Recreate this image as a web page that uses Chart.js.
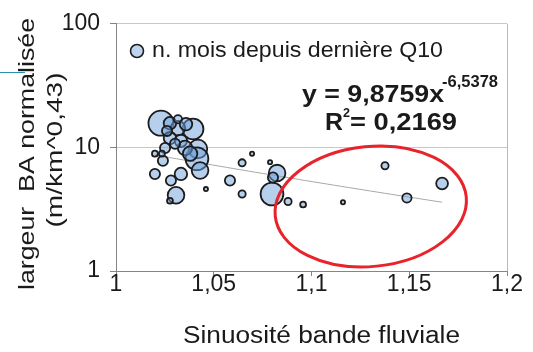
<!DOCTYPE html>
<html>
<head>
<meta charset="utf-8">
<script src="https://cdn.jsdelivr.net/npm/chart.js@4.4.1/dist/chart.umd.min.js"></script>
<style>
  html, body { margin: 0; padding: 0; background: #ffffff; }
  #wrap { width: 533px; height: 352px; }
</style>
</head>
<body>
<div id="wrap"><canvas id="c" width="533" height="352"></canvas></div>
<script>
// Sinuosity of the braided belt vs normalised braidplain width,
// bubble size = months since the last Q10 flood.
const sinuosity = [
  1.0230, 1.0394, 1.0317, 1.0276, 1.0276, 1.0332, 1.0419, 1.0251, 1.0317, 1.0414,
  1.0430, 1.0240, 1.0199, 1.0281, 1.0332, 1.0307, 1.0460, 1.0276, 1.0199, 1.0696,
  1.0645, 1.0788, 1.0583, 1.0645, 1.0824, 1.0798, 1.0803, 1.0880, 1.0957, 1.1161,
  1.1376, 1.1488, 1.1668, 1.0353, 1.0379, 1.0302, 1.0235, 1.0358, 1.0261
];
const widthNorm = [
  15.7, 14.1, 14.3, 15.7, 11.9, 11.3, 9.7, 9.9, 16.9, 8.1,
  6.5, 7.8, 6.1, 5.4, 6.1, 4.1, 4.6, 3.7, 8.9, 8.9,
  7.5, 7.6, 5.4, 4.2, 6.2, 4.2, 5.7, 3.65, 3.45, 3.6,
  7.1, 3.9, 5.1, 9.9, 8.9, 10.7, 8.9, 15.4, 13.6
];
const monthsSinceQ10 = [
  36, 25, 12, 9, 9, 9, 20, 6, 4, 30,
  16, 6, 6, 6, 9, 16, 1, 2, 2, 1,
  3, 1, 6, 3, 16, 30, 6, 3, 2, 1,
  3, 5, 8, 12, 12, 6, 2, 9, 6
];

// Power-law trendline y = a * x^b and its fit quality
const trendCoef = 9.8759;
const trendExp = -6.5378;
const rSquared = 0.2169;

const xTickValues = [1, 1.05, 1.1, 1.15, 1.2];
const xTickLabels = ['1', '1,05', '1,1', '1,15', '1,2'];
const yTickValues = [1, 10, 100];
const yTickLabels = ['1', '10', '100'];

const seriesLabel = 'n. mois depuis dernière Q10';
const xTitle = 'Sinuosité bande fluviale';
const yTitle = ['largeur  BA normalisée', '(m/km^0,43)'];

const FONT = '"Liberation Sans", Arial, Helvetica, sans-serif';
const TEXT = '#1a1a1a';
const BUBBLE_FILL = 'rgba(110,160,220,0.5)';
const BUBBLE_EDGE = '#1c1c1c';
const MAX_RADIUS = 12.5;
const maxMonths = Math.max(...monthsSinceQ10);
const radiusFor = m => MAX_RADIUS * Math.sqrt(m / maxMonths);

const bubbles = sinuosity.map((x, i) => ({ x: x, y: widthNorm[i], r: radiusFor(monthsSinceQ10[i]) }));

const xMin = Math.min(...sinuosity);
const xMax = Math.max(...sinuosity);
const trendPoints = [];
for (let k = 0; k <= 40; k++) {
  const x = xMin + (xMax - xMin) * k / 40;
  trendPoints.push({ x: x, y: trendCoef * Math.pow(x, trendExp) });
}

const comma = v => String(v).replace('.', ',');

// draw text stretched horizontally so that it spans a given width
function fitText(ctx, text, x, y, targetW, font) {
  ctx.font = font;
  const w = ctx.measureText(text).width;
  ctx.save();
  ctx.translate(x, y);
  ctx.scale(targetW / w, 1);
  ctx.textAlign = 'left';
  ctx.textBaseline = 'alphabetic';
  ctx.fillText(text, 0, 0);
  ctx.restore();
}

// rotated text centred on (cx, cy), reading bottom to top
function fitTextVertical(ctx, text, cx, cy, targetLen, font) {
  ctx.font = font;
  const w = ctx.measureText(text).width;
  ctx.save();
  ctx.translate(cx, cy);
  ctx.rotate(-Math.PI / 2);
  ctx.scale(targetLen / w, 1);
  ctx.textAlign = 'center';
  ctx.textBaseline = 'middle';
  ctx.fillText(text, 0, 0);
  ctx.restore();
}

const decorations = {
  id: 'decorations',
  afterDraw(chart) {
    const ctx = chart.ctx;
    const xs = chart.scales.x, ys = chart.scales.y;
    ctx.save();
    ctx.fillStyle = TEXT;

    // axis titles
    fitText(ctx, xTitle, 183, 343, 277, '23px ' + FONT);
    fitTextVertical(ctx, yTitle[0], 28, 154, 272, '22px ' + FONT);
    fitTextVertical(ctx, yTitle[1], 56, 150, 155, '22px ' + FONT);

    // legend entry
    ctx.beginPath();
    ctx.arc(137, 51, 6.5, 0, Math.PI * 2);
    ctx.fillStyle = 'rgb(190,212,238)';
    ctx.fill();
    ctx.lineWidth = 1.6;
    ctx.strokeStyle = BUBBLE_EDGE;
    ctx.stroke();
    ctx.fillStyle = TEXT;
    fitText(ctx, seriesLabel, 152, 57, 291, '22px ' + FONT);

    // trendline equation and R²
    fitText(ctx, 'y = ' + comma(trendCoef) + 'x', 302, 102, 142, 'bold 24px ' + FONT);
    fitText(ctx, comma(trendExp), 442, 87, 56, 'bold 16px ' + FONT);
    fitText(ctx, 'R', 325, 130, 18, 'bold 24px ' + FONT);
    fitText(ctx, '2', 343, 117, 7, 'bold 13px ' + FONT);
    fitText(ctx, '= ' + comma(rSquared), 350, 130, 107, 'bold 24px ' + FONT);

    // red ellipse around the most sinuous reaches
    const ex = xs.getPixelForValue(1.1303);
    const ey = ys.getPixelForValue(3.33);
    ctx.beginPath();
    ctx.ellipse(ex, ey, 96, 60, -0.1, 0, Math.PI * 2);
    ctx.strokeStyle = '#e8232b';
    ctx.lineWidth = 3;
    ctx.stroke();

    // short rule at the left margin
    ctx.beginPath();
    ctx.moveTo(0, 72.5);
    ctx.lineTo(25, 72.5);
    ctx.strokeStyle = '#2b8fb0';
    ctx.lineWidth = 1;
    ctx.stroke();

    ctx.restore();
  }
};

new Chart(document.getElementById('c'), {
  type: 'bubble',
  data: {
    datasets: [
      {
        type: 'line',
        label: 'tendance',
        data: trendPoints,
        borderColor: '#a8a8a8',
        borderWidth: 1,
        pointRadius: 0,
        fill: false,
        tension: 0,
        order: 2
      },
      {
        type: 'bubble',
        label: seriesLabel,
        data: bubbles,
        backgroundColor: BUBBLE_FILL,
        borderColor: BUBBLE_EDGE,
        borderWidth: 1.8,
        order: 1
      }
    ]
  },
  options: {
    responsive: false,
    animation: false,
    devicePixelRatio: 1,
    layout: { padding: { left: 0, right: 26, top: 22, bottom: 0 } },
    plugins: { legend: { display: false }, tooltip: { enabled: false } },
    scales: {
      x: {
        type: 'linear',
        min: 1,
        max: 1.2,
        afterBuildTicks: s => { s.ticks = xTickValues.map(v => ({ value: v })); },
        afterFit: s => { s.height = 81; },
        ticks: {
          callback: (v, i) => xTickLabels[i],
          autoSkip: false,
          maxRotation: 0,
          padding: -5,
          color: TEXT,
          font: { family: FONT, size: 23 }
        },
        grid: {
          drawOnChartArea: true,
          color: c => (c.tick && c.tick.value === 1.2) ? '#b8b8b8' : 'rgba(0,0,0,0)',
          tickColor: '#858585',
          tickLength: 5
        },
        border: { color: '#858585', width: 1 }
      },
      y: {
        type: 'logarithmic',
        min: 1,
        max: 100,
        afterBuildTicks: s => { s.ticks = yTickValues.map(v => ({ value: v })); },
        afterFit: s => { s.width = 116; },
        ticks: {
          callback: (v, i) => yTickLabels[i],
          autoSkip: false,
          padding: 10,
          color: TEXT,
          font: { family: FONT, size: 23 }
        },
        grid: {
          color: c => (c.tick && c.tick.value === 1) ? 'rgba(0,0,0,0)' : '#c8c8c8',
          tickColor: '#858585',
          tickLength: 6
        },
        border: { color: '#858585', width: 1 }
      }
    }
  },
  plugins: [decorations]
});
</script>
</body>
</html>
